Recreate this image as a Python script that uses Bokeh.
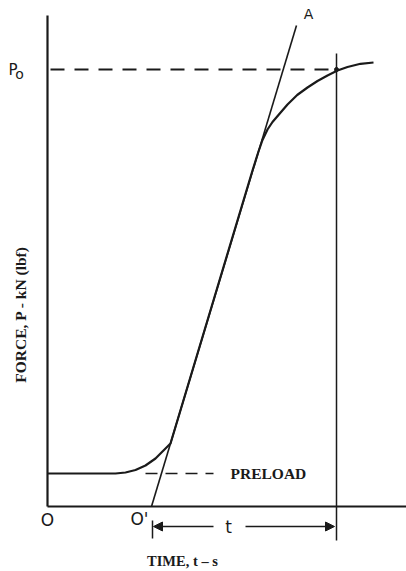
from bokeh.plotting import figure
from bokeh.models import Range1d, Arrow, NormalHead
from bokeh.core.properties import value
from bokeh.embed import file_html
from bokeh.resources import INLINE

# ---- data (time units, force units; schematic) ----
curve_t = [0, 68, 78, 88, 98, 108, 116, 123, 205, 211, 215, 220, 225, 229.7,
           240, 249.7, 260, 270, 280, 290, 300, 313, 326]
curve_p = [33, 33, 34, 36.5, 41, 48, 56, 63, 336, 355, 366.5, 377, 384.5, 390,
           402, 411.5, 419, 425.5, 431, 436, 439.5, 442.7, 444]
tangent_t = [104, 249]
tangent_p = [0, 481]
p_o = 437
preload = 33
t_start = 104
t_end = 289
axis_t_max = 359
axis_p_max = 491

p = figure(width=406, height=571, output_backend="svg", toolbar_location=None,
           x_range=Range1d(-47, 359), y_range=Range1d(-65, 506),
           min_border=0, outline_line_color=None)
p.axis.visible = False
p.grid.visible = False
p.background_fill_color = "white"

ink = "#1a1a1a"
# axes
p.line([0, 0], [0, axis_p_max], line_color=ink, line_width=2.2)
p.line([0, axis_t_max], [0, 0], line_color=ink, line_width=2)
# Po dashed
p.line([3, t_end], [p_o, p_o], line_color=ink, line_width=2, line_dash="14 10")
# preload dashed
p.line([98, 166], [preload, preload], line_color=ink, line_width=1.3, line_dash="12 8")
# vertical line at t_end
p.line([t_end, t_end], [-34, 453], line_color=ink, line_width=1.5)
# tangent line O'A
p.line(tangent_t, tangent_p, line_color=ink, line_width=1.6)
# curve
p.line(curve_t, curve_p, line_color=ink, line_width=2.2, line_join="round")
p.scatter([t_end], [p_o], size=4, color=ink)
# start tick
p.line([t_start + 1, t_start + 1], [-14, -32], line_color=ink, line_width=1.5)
# arrows
p.add_layout(Arrow(end=NormalHead(size=9, fill_color=ink, line_color=ink),
                   x_start=166, y_start=-20, x_end=t_start + 2, y_end=-20,
                   line_color=ink, line_width=1.6))
p.add_layout(Arrow(end=NormalHead(size=9, fill_color=ink, line_color=ink),
                   x_start=198, y_start=-20, x_end=t_end - 2, y_end=-20,
                   line_color=ink, line_width=1.6))

sans = value("DejaVu Sans")
serif = value("Liberation Serif")
p.text([-39], [437], text=["P"], text_font=sans, text_font_size="15px",
       text_align="left", text_baseline="middle", text_color=ink)
p.text([-28], [433], text=["o"], text_font=sans, text_font_size="14px",
       text_align="center", text_baseline="middle", text_color=ink)
p.text([261], [493], text=["A"], text_font=sans, text_font_size="14px",
       text_align="center", text_baseline="middle", text_color=ink)
p.text([0], [-13.5], text=["O"], text_font=sans, text_font_size="17px",
       text_align="center", text_baseline="middle", text_color=ink)
p.text([92], [-12], text=["O'"], text_font=sans, text_font_size="17px",
       text_align="center", text_baseline="middle", text_color=ink)
p.text([181], [-20], text=["t"], text_font=sans, text_font_size="17px",
       text_align="center", text_baseline="middle", text_color=ink)
p.text([183], [33], text=["PRELOAD"], text_font=serif, text_font_size="15.5px",
       text_font_style="bold", text_align="left", text_baseline="middle", text_color=ink)
p.text([135], [-54], text=["TIME, t – s"], text_font=serif, text_font_size="14.5px",
       text_font_style="bold", text_align="center", text_baseline="middle", text_color=ink)
p.text([-27], [192], text=["FORCE, P - kN (lbf)"], text_font=serif, text_font_size="15.5px",
       text_font_style="bold", text_align="center", text_baseline="middle", angle=1.5708,
       text_color=ink)

open("out.html", "w").write(file_html(p, INLINE))
